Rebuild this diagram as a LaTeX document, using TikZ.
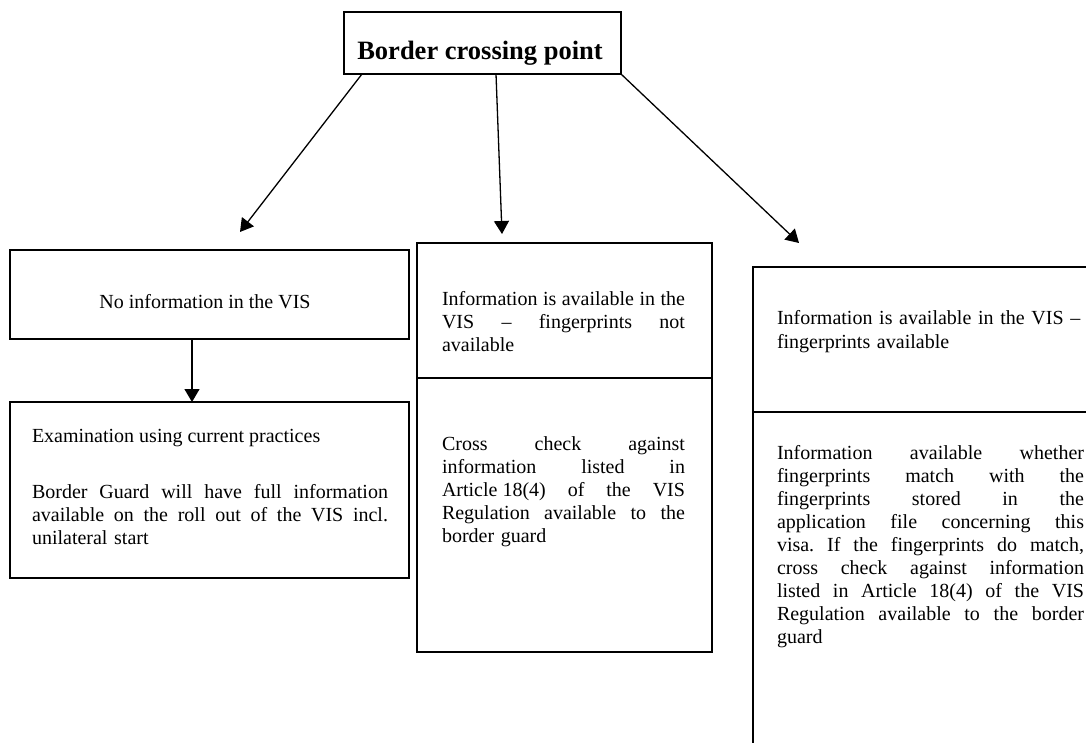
\documentclass[tikz,border=0pt]{standalone}
\usepackage{fontspec}
\setmainfont{Liberation Serif}
\usetikzlibrary{arrows.meta}
\tikzset{
 box/.style={draw, line width=1.6pt, rectangle, inner sep=0pt, outer sep=0pt, anchor=north west},
 txt/.style={inner sep=0pt, outer sep=0pt, anchor=base west, align=left, font=\fontsize{20}{23}\selectfont\frenchspacing},
 arr/.style={line width=1.3pt, -{Triangle[length=13pt,width=15pt]}},
}
\newcommand{\jl}[2]{\leavevmode\hbox to #1{\spaceskip=5pt plus 1fil\relax #2}}
\begin{document}
\begin{tikzpicture}[x=1pt,y=-1pt]
\path[use as bounding box] (0,0) rectangle (1086,743);
\clip (0,0) rectangle (1086,743);
% boxes
\node[box, minimum width=277pt, minimum height=62pt] (top) at (344,12) {};
\node[box, minimum width=399pt, minimum height=89pt] (L1) at (10,250) {};
\node[box, minimum width=399pt, minimum height=176pt] (L2) at (10,402) {};
\node[box, minimum width=295pt, minimum height=135pt] (M1) at (417,243) {};
\node[box, minimum width=295pt, minimum height=274pt] (M2) at (417,378) {};
\node[box, minimum width=360pt, minimum height=145pt] (R1) at (753,267) {};
\node[box, minimum width=360pt, minimum height=360pt] (R2) at (753,412) {};
% texts
\node[inner sep=0pt, anchor=base, font=\fontsize{26.5}{30}\selectfont\bfseries] (tTop) at (480,60) {Border crossing point};
\node[txt, anchor=base] (tL1) at (205,308) {No information in the VIS};
\node[txt] (tL2a) at (32,442) {Examination using current practices};
\node[txt, text width=356pt] (tL2b) at (32,498) {\jl{356pt}{Border Guard will have full information}\\\jl{356pt}{available on the roll out of the VIS incl.}\\unilateral start};
\node[txt, text width=243pt] (tM1) at (442,305) {\jl{243pt}{Information is available in the}\\\jl{243pt}{VIS -- fingerprints not}\\available};
\node[txt, text width=243pt] (tM2) at (442,450) {\jl{243pt}{Cross check against}\\\jl{243pt}{information listed in}\\\jl{243pt}{\hbox{Article 18(4)} of the VIS}\\\jl{243pt}{Regulation available to the}\\border guard};
\node[txt, text width=307pt] (tR1) at (777,324) {Information is available in the VIS --\\[1pt]fingerprints available};
\node[txt, text width=307pt] (tR2) at (777,459) {\jl{307pt}{Information available whether}\\\jl{307pt}{fingerprints match with the}\\\jl{307pt}{fingerprints stored in the}\\\jl{307pt}{application file concerning this}\\\jl{307pt}{visa. If the fingerprints do match,}\\\jl{307pt}{cross check against information}\\\jl{307pt}{listed in Article 18(4) of the VIS}\\\jl{307pt}{Regulation available to the border}\\guard};
% arrow ends
\coordinate (eL) at (240,232);
\coordinate (eM) at (502,234);
\coordinate (eR) at (799,243);
\draw[arr] (top.south -| 362,0) -- (eL);
\draw[arr] (top.south -| 496,0) -- (eM);
\draw[arr] (top.south east) -- (eR);
\draw[arr] (L1.south -| 192,0) -- (L2.north -| 192,0);
\end{tikzpicture}
\end{document}
